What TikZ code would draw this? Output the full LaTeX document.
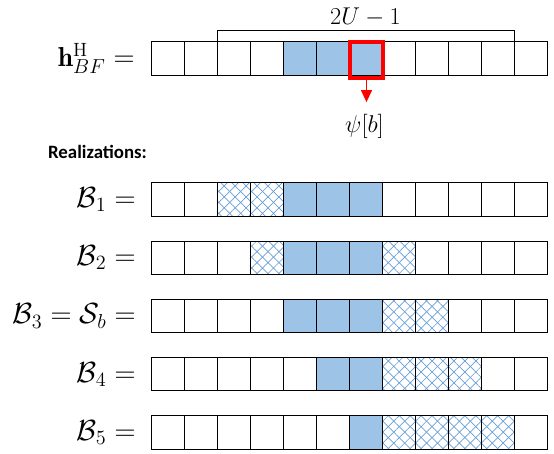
\documentclass[tikz,border=0pt]{standalone}
\usepackage{fontspec}
\newfontfamily\calibri{Carlito}
\usetikzlibrary{positioning, arrows.meta, patterns.meta, calc}
\definecolor{cellblue}{RGB}{157,195,230}
\definecolor{hatchblue}{RGB}{104,158,214}
\tikzset{
    cell/.style={rectangle, draw, line width=0.7pt, minimum width=0.825cm, minimum height=0.835cm, inner sep=0pt, outer sep=0pt},
    slot0/.style={cell},
    slot1/.style={cell, fill=cellblue},
    slot2/.style={cell, preaction={pattern={Lines[angle=45, distance=5.5pt, line width=0.5pt]}, pattern color=hatchblue},
                  pattern={Lines[angle=-45, distance=5.5pt, line width=0.5pt]}, pattern color=hatchblue},
    pick/.style={rectangle, draw=red, line width=2.2pt, minimum width=0.825cm, minimum height=0.9cm, inner sep=0pt},
    bigmath/.style={inner sep=0pt, font=\fontsize{19.5}{23}\selectfont},
    math/.style={inner sep=0pt, font=\fontsize{19.5}{23}\selectfont},
    midmath/.style={inner sep=0pt, font=\fontsize{18}{22}\selectfont},
    title/.style={inner sep=0pt, font={\calibri\bfseries\fontsize{13.4}{16}\selectfont}}
}

\begin{document}
\begin{tikzpicture}[x=0.025cm, y=-0.025cm]
    \useasboundingbox (0,0) rectangle (554,454);

    % beamforming vector
    \foreach \t [count=\i from 0] in {0,0,0,0,1,1,1,0,0,0,0,0}
        \node[slot\t] (h\i) at (167.5+33*\i, 58.5) {};
    \node[bigmath, left=0.4cm of h0] (hlabel) {$\mathbf{h}^{\mathrm{H}}_{BF} =$};

    \draw[line width=0.7pt] (h2.north west) -- ++(0,-11) -| (h11.north west);
    \node[midmath, yshift=0.625cm] (span) at ($(h2.north west)!0.5!(h11.north west)$) {$2U-1$};

    \node[pick] (sel) at ($(h6)+(1,1.5)$) {};
    \node[math, font=\fontsize{17.5}{21}\selectfont, below=0.865cm of sel, xshift=-0.05cm] (psi) {$\psi[b]$};
    \draw[red, line width=1.4pt, -{Triangle[width=7.6pt, length=8.5pt]}, shorten >=0.3cm] (sel.south) -- (sel.south |- psi.north);

    % realizations
    \node[title] (realiz) at (97.5,152) {Realizations:};
    \foreach \r/\pat in {1/{0,0,2,2,1,1,1,0,0,0,0,0},
                         2/{0,0,0,2,1,1,1,2,0,0,0,0},
                         3/{0,0,0,0,1,1,1,2,2,0,0,0},
                         4/{0,0,0,0,0,1,1,2,2,2,0,0},
                         5/{0,0,0,0,0,0,1,2,2,2,2,0}}{
        \foreach \t [count=\i from 0] in \pat
            \node[slot\t] (b\r-\i) at (167.5+33*\i, 141.25+58.25*\r) {};
    }
    \node[math, left=0.38cm of b1-0] (blabel1) {$\mathcal{B}_1 =$};
    \node[math, left=0.38cm of b2-0] (blabel2) {$\mathcal{B}_2 =$};
    \node[math, left=0.38cm of b3-0] (blabel3) {$\mathcal{B}_3 = \mathcal{S}_b =$};
    \node[math, left=0.38cm of b4-0] (blabel4) {$\mathcal{B}_4 =$};
    \node[math, left=0.38cm of b5-0] (blabel5) {$\mathcal{B}_5 =$};
\end{tikzpicture}
\end{document}
